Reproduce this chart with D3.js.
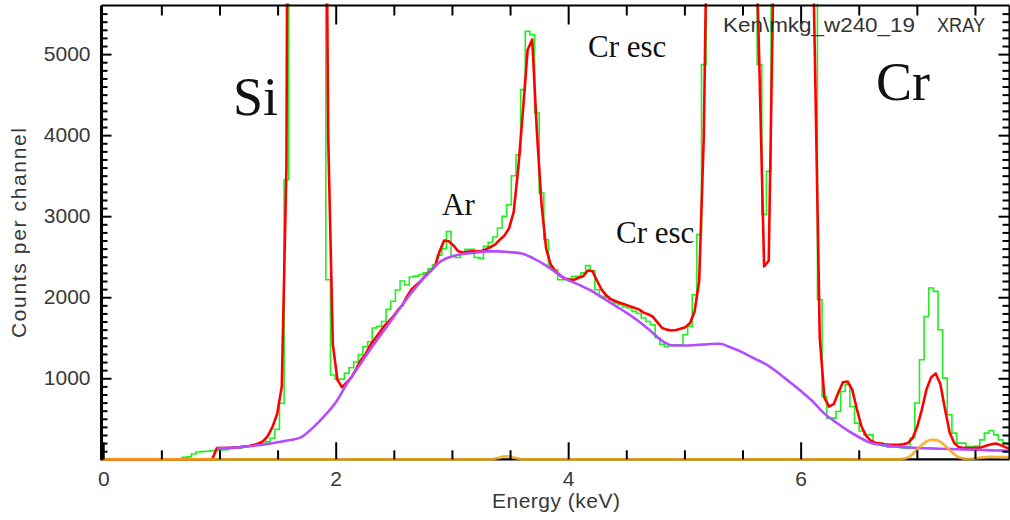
<!DOCTYPE html>
<html><head><meta charset="utf-8">
<script src="https://cdn.jsdelivr.net/npm/d3@7"></script>
<style>
html,body{margin:0;padding:0;background:#fff;}
svg{display:block;}
</style></head><body>
<svg id="chart" width="1010" height="520"></svg>
<script>
// ---- spectrum data -------------------------------------------------------
// Channel k spans [k*channelWidth, (k+1)*channelWidth] keV
const channelWidth = 0.0399;

// measured counts per channel (green histogram), starting at channel 17
const countsFirstChannel = 17;
const counts = [
  25, 30, 65, 90, 95, 100, 105, 110,
  115, 120, 130, 150, 140, 160, 165, 175, 185, 195, 215, 260, 370, 690,
  3450, 20000, 40000, 55000, 60000, 50000, 30000, 15000, 8000,
  2216, 1040, 990, 990, 1060, 1130, 1200, 1290, 1390, 1450,
  1620, 1640, 1700, 1850, 1950, 2090, 2200, 2150, 2250, 2260, 2280, 2300, 2350, 2400,
  2520, 2600, 2810, 2500, 2490, 2560, 2590, 2590, 2490, 2480,
  2627, 2677, 2743, 2854, 2998, 3142, 3500, 3759, 4562, 5281, 5241, 4274, 3286, 2710, 2380,
  2340, 2216, 2216, 2230, 2257, 2257, 2300, 2390, 2330, 2093, 2010, 2000, 1969, 1930,
  1907, 1880, 1867, 1825, 1800, 1743, 1700, 1660, 1500, 1420, 1392, 1413, 1413, 1413, 1537, 1640,
  2031, 2772, 4870, 9000, 20000, 40000, 60000, 70000, 60000, 45000, 30000, 18000, 10000, 7000,
  4870, 3020, 3553, 8000, 20000, 40000, 55000, 50000, 35000, 20000, 12000, 8000, 7000,
  1969, 775, 508, 508, 590, 837, 920, 652, 447, 350, 302, 302, 200, 200,
  165, 150, 160, 155, 140, 135, 262, 694, 1228, 1763, 2114, 2072, 1599, 1002,
  549, 323, 200, 200, 158, 158, 165, 240, 323, 352, 302, 240, 200, 180
];

// fitted model (red), value at each channel centre, starting at channel 23
const modelFirstChannel = 23;
const model = [
  0, 138, 138, 140, 142, 145, 150, 158, 165, 178, 195, 225, 290, 400, 560, 900,
  3600, 20000, 40000, 50000, 50000, 40000, 25000, 16000, 12000, 4000,
  1420, 980, 890, 950, 1010, 1110, 1220, 1290, 1400, 1480, 1560, 1640, 1700, 1760, 1840, 1900,
  2010, 2100, 2150, 2200, 2270, 2320, 2380,
  2560, 2700, 2690, 2640, 2570, 2550, 2560, 2566, 2566, 2570, 2590, 2620, 2650, 2710, 2760, 2850,
  3050, 3600, 4300, 5050, 5180, 4050, 3150, 2600,
  2400, 2320, 2270, 2230, 2216, 2216, 2240, 2260, 2330, 2320, 2200, 2090, 2020, 1975, 1950, 1930,
  1910, 1890, 1870, 1850, 1810, 1790, 1760, 1690, 1620, 1600, 1590, 1595, 1610, 1630, 1680, 1820, 2200,
  4000, 8000, 15000, 30000, 50000, 60000, 60000, 50000, 35000, 20000, 10000, 7000, 4800, 2380, 2450,
  6000, 12000, 25000, 40000, 45000, 35000, 22000, 12000, 8000, 4800, 1500,
  760, 650, 680, 820, 950, 960, 860, 620, 405, 290, 230, 205, 195, 185, 180, 179, 180, 185, 200, 260,
  400, 611, 860, 1010, 1060, 930, 620, 330, 200, 150, 140, 138, 138, 140, 150, 170, 185, 195, 175, 150,
  130
];

// continuum component (purple)
const continuumEnergy = [
  0.98, 1.0, 1.1, 1.2, 1.3, 1.4, 1.5, 1.6, 1.7, 1.8, 1.9, 2.0, 2.1, 2.2, 2.3, 2.4, 2.5, 2.6, 2.7,
  2.8, 2.9, 3.0, 3.1, 3.2, 3.3, 3.4, 3.5, 3.6, 3.7, 3.8, 3.9, 4.0, 4.1, 4.2, 4.3, 4.4, 4.5, 4.6,
  4.7, 4.8, 4.9, 5.0, 5.1, 5.2, 5.3, 5.4, 5.5, 5.6, 5.7, 5.8, 5.9, 6.0, 6.1, 6.2, 6.3, 6.4, 6.5,
  6.6, 6.7, 6.8, 6.9, 7.0, 7.1, 7.2, 7.3, 7.4, 7.5, 7.6, 7.7, 7.8
];
const continuumCounts = [
  135, 138, 142, 152, 168, 185, 210, 235, 270, 385, 530, 700, 940, 1150, 1360, 1560, 1760, 1960, 2140,
  2300, 2440, 2505, 2535, 2550, 2566, 2566, 2556, 2540, 2480, 2400, 2300, 2210, 2150, 2080, 1990, 1900, 1810, 1710,
  1595, 1470, 1405, 1405, 1410, 1420, 1425, 1380, 1320, 1245, 1175, 1075, 960, 845, 720, 570, 460, 360, 275,
  205, 178, 160, 150, 140, 135, 130, 126, 121, 117, 113, 108, 104
];

// line components (orange), channel centre values; zero elsewhere
const lineChannels = [
  0, 83, 84, 85, 86, 87, 88, 89, 90,
  171, 172, 173, 174, 175, 176, 177, 178, 179, 180, 181, 182, 183, 184, 185, 186,
  187, 188, 189, 190, 191, 192, 193, 194, 195
];
const lineCounts = [
  0, 0, 8, 22, 35, 35, 22, 8, 0,
  0, 5, 22, 60, 120, 175, 220, 240, 238, 215, 170, 115, 60, 25, 8, 3,
  8, 15, 22, 27, 29, 28, 26, 24, 22
];

// axis ticks
const xMajorTicks = [0, 2, 4, 6];
const xMinorTicks = [0.5, 1, 1.5, 2.5, 3, 3.5, 4.5, 5, 5.5, 6.5, 7, 7.5];
const yMajorTicks = [1000, 2000, 3000, 4000, 5000];

// ---- drawing --------------------------------------------------------------
const svg = d3.select("#chart");
const frame = {left: 101.5, right: 1009.5, top: 5.5, bottom: 459.3};

const x = d3.scaleLinear().domain([-0.015, 7.797]).range([frame.left, frame.right]);
const y = d3.scaleLinear().domain([0, 5600]).range([frame.bottom, frame.top]);
const eMin = x.domain()[0], eMax = x.domain()[1];

svg.append("defs").append("clipPath").attr("id", "plotArea")
  .append("rect").attr("x", frame.left).attr("y", frame.top - 2)
  .attr("width", frame.right - frame.left).attr("height", frame.bottom - frame.top + 4);

// bottom axis line (black), drawn first so the curves sit on top of it
svg.append("line").attr("x1", frame.left).attr("x2", frame.right)
  .attr("y1", frame.bottom).attr("y2", frame.bottom)
  .attr("stroke", "#000").attr("stroke-width", 2.2);

const plot = svg.append("g").attr("clip-path", "url(#plotArea)");

const edge = k => k * channelWidth;
const centre = k => (k + 0.5) * channelWidth;

// green histogram of measured counts
const histPts = [[eMin, 0]].concat(counts.map((c, i) => [edge(countsFirstChannel + i), c]));
histPts.push([eMax + 0.1, counts[counts.length - 1]]);
plot.append("path")
  .attr("d", d3.line().x(d => x(d[0])).y(d => y(d[1])).curve(d3.curveStepAfter)(histPts))
  .attr("fill", "none").attr("stroke", "#1ef01e").attr("stroke-width", 1.6);

// red fitted model
const modelPts = [[eMin, 0]].concat(model.map((c, i) => [centre(modelFirstChannel + i), c]));
plot.append("path")
  .attr("d", d3.line().x(d => x(d[0])).y(d => y(d[1]))(modelPts))
  .attr("fill", "none").attr("stroke", "#ff0000").attr("stroke-width", 2.6)
  .attr("stroke-linejoin", "round");

// purple continuum
plot.append("path")
  .attr("d", d3.line().x((d, i) => x(continuumEnergy[i])).y(d => y(d))
    .curve(d3.curveMonotoneX)(continuumCounts))
  .attr("fill", "none").attr("stroke", "#b34dff").attr("stroke-width", 2.6);

// orange line components
const linePts = lineChannels.map((k, i) => [k === 0 ? eMin : centre(k), lineCounts[i]]);
plot.append("path")
  .attr("d", d3.line().x(d => x(d[0])).y(d => y(d[1])).curve(d3.curveMonotoneX)(linePts))
  .attr("fill", "none").attr("stroke", "#f2aa1c").attr("stroke-width", 2.8)
  .attr("stroke-opacity", 0.86);

// ---- axes ----------------------------------------------------------------
const sans = "'Liberation Sans', Arial, sans-serif";
const axisStyle = g => {
  g.select(".domain").remove();
  g.selectAll(".tick line").attr("stroke", "#000").attr("stroke-width", 2);
  g.selectAll(".tick text").attr("font-family", sans)
    .attr("font-size", 21).attr("fill", "#383838");
};

svg.append("g").attr("transform", `translate(0,${frame.bottom})`)
  .call(d3.axisBottom(x).tickValues(xMajorTicks).tickSize(-17).tickPadding(12)
    .tickFormat(d3.format("d"))).call(axisStyle);
svg.append("g").attr("transform", `translate(0,${frame.bottom})`)
  .call(d3.axisBottom(x).tickValues(xMinorTicks).tickSize(-9).tickFormat("")).call(axisStyle);
svg.append("g").attr("transform", `translate(0,${frame.top})`)
  .call(d3.axisTop(x).tickValues(xMajorTicks.slice(1)).tickSize(-19).tickFormat("")).call(axisStyle);
svg.append("g").attr("transform", `translate(0,${frame.top})`)
  .call(d3.axisTop(x).tickValues(xMinorTicks).tickSize(-10).tickFormat("")).call(axisStyle);

const yMinor = d3.range(100, 5600, 100).filter(v => v % 1000 !== 0);
svg.append("g").attr("transform", `translate(${frame.left},0)`)
  .call(d3.axisLeft(y).tickValues(yMajorTicks).tickSize(-10).tickPadding(11)
    .tickFormat(d3.format("d"))).call(axisStyle);
svg.append("g").attr("transform", `translate(${frame.left},0)`)
  .call(d3.axisLeft(y).tickValues(yMinor).tickSize(-6).tickFormat("")).call(axisStyle);
svg.append("g").attr("transform", `translate(${frame.right},0)`)
  .call(d3.axisRight(y).tickValues(yMajorTicks).tickSize(-11).tickFormat("")).call(axisStyle);
svg.append("g").attr("transform", `translate(${frame.right},0)`)
  .call(d3.axisRight(y).tickValues(yMinor).tickSize(-7).tickFormat("")).call(axisStyle);

// frame
svg.append("line").attr("x1", frame.left).attr("x2", frame.left)
  .attr("y1", frame.top).attr("y2", frame.bottom + 1)
  .attr("stroke", "#000").attr("stroke-width", 3);
svg.append("line").attr("x1", frame.left).attr("x2", frame.right)
  .attr("y1", frame.top).attr("y2", frame.top)
  .attr("stroke", "#000").attr("stroke-width", 2);
svg.append("line").attr("x1", frame.right).attr("x2", frame.right)
  .attr("y1", frame.top).attr("y2", frame.bottom)
  .attr("stroke", "#000").attr("stroke-width", 2);

// axis titles
svg.append("text").attr("x", 556).attr("y", 508)
  .attr("text-anchor", "middle").attr("font-family", sans).attr("font-size", 21)
  .attr("textLength", 128).attr("lengthAdjust", "spacing")
  .attr("fill", "#383838").text("Energy (keV)");
svg.append("text").attr("transform", "translate(25.5,233) rotate(-90)")
  .attr("text-anchor", "middle").attr("font-family", sans).attr("font-size", 21)
  .attr("textLength", 210).attr("lengthAdjust", "spacing")
  .attr("fill", "#383838").text("Counts per channel");
svg.append("text").attr("x", 723).attr("y", 32).attr("font-family", sans)
  .attr("font-size", 21).attr("fill", "#333")
  .attr("textLength", 192).attr("lengthAdjust", "spacingAndGlyphs")
  .text("Ken\\mkg_w240_19");
svg.append("text").attr("x", 937).attr("y", 32).attr("font-family", sans)
  .attr("font-size", 19.5).attr("fill", "#333")
  .attr("textLength", 48).attr("lengthAdjust", "spacingAndGlyphs")
  .text("XRAY");

// element annotations
const serif = "'Liberation Serif', 'Times New Roman', serif";
const notes = [
  {t: "Si", x: 233, y: 115, s: 54},
  {t: "Cr", x: 876, y: 100, s: 54},
  {t: "Ar", x: 442, y: 215, s: 31},
  {t: "Cr esc", x: 588, y: 57, s: 31},
  {t: "Cr esc", x: 616, y: 243, s: 31}
];
svg.selectAll("text.note").data(notes).enter().append("text").attr("class", "note")
  .attr("x", d => d.x).attr("y", d => d.y).attr("font-family", serif)
  .attr("font-size", d => d.s).attr("fill", "#111").text(d => d.t);
</script>
</body></html>
